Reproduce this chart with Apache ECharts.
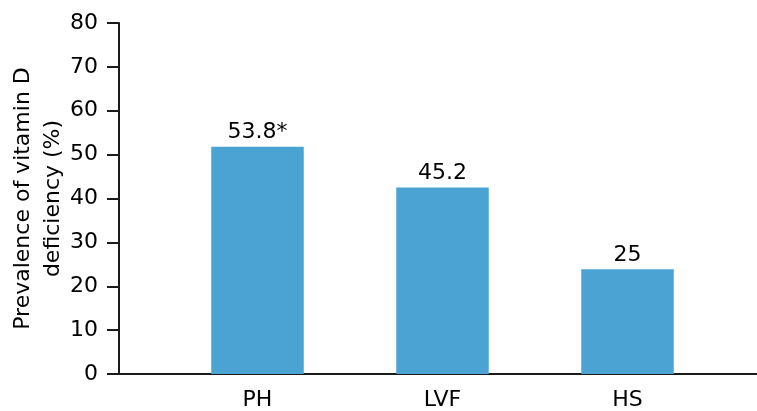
<!DOCTYPE html>
<html><head><meta charset="utf-8">
<script src="https://cdn.jsdelivr.net/npm/echarts@6/dist/echarts.min.js"></script>
<style>html,body{margin:0;padding:0;background:#fff}#c{width:757px;height:411px}</style>
</head><body><div id="c"></div>
<script>
const categories = ['PH', 'LVF', 'HS'];
const barValues = [51.8, 42.5, 23.9];
const barLabels = ['53.8*', '45.2', '25'];
const yTicks = [0, 10, 20, 30, 40, 50, 60, 70, 80];
const yName = 'Prevalence of vitamin D\ndeficiency (%)';

const FONT = 'DejaVu Sans, Liberation Sans, Arial, sans-serif';
const AXIS = '#1a1a1a';
const chart = echarts.init(document.getElementById('c'), null, {renderer: 'canvas'});
chart.setOption({
  animation: false,
  backgroundColor: '#fff',
  textStyle: {fontFamily: FONT},
  grid: [
    {left: 165, right: 37, top: 23, bottom: 37, containLabel: false, outerBoundsMode: 'none'},
    {left: 119, right: 0, top: 23, bottom: 37, containLabel: false, outerBoundsMode: 'none'}
  ],
  xAxis: [
    {
      type: 'category', gridIndex: 0, data: categories,
      axisLine: {show: false}, axisTick: {show: false},
      axisLabel: {color: '#000', fontSize: 22, fontFamily: FONT, margin: 15}
    },
    {
      type: 'value', gridIndex: 1, min: 0, max: 1,
      axisLine: {show: true, lineStyle: {color: AXIS, width: 2}},
      axisTick: {show: false}, axisLabel: {show: false}, splitLine: {show: false}
    }
  ],
  yAxis: [
    {
      type: 'value', gridIndex: 0, min: yTicks[0], max: yTicks[yTicks.length - 1], interval: 10,
      offset: 46,
      name: yName, nameLocation: 'middle', nameGap: 51, nameMoveOverlap: false,
      nameTextStyle: {color: '#000', fontSize: 22, fontFamily: FONT, lineHeight: 30},
      axisLine: {show: true, lineStyle: {color: AXIS, width: 2}},
      axisTick: {show: true, length: 12, lineStyle: {color: AXIS, width: 2}},
      axisLabel: {color: '#000', fontSize: 22, fontFamily: FONT, margin: 21},
      splitLine: {show: false}
    },
    {
      type: 'value', gridIndex: 1, show: false, min: 0, max: 1
    }
  ],
  series: [{
    type: 'bar', xAxisIndex: 0, yAxisIndex: 0,
    data: barValues, barWidth: '50%',
    itemStyle: {color: '#4aa3d3'},
    label: {
      show: true, position: 'top', distance: 3,
      color: '#000', fontSize: 22, fontFamily: FONT,
      formatter: p => barLabels[p.dataIndex]
    }
  }]
});
</script></body></html>
